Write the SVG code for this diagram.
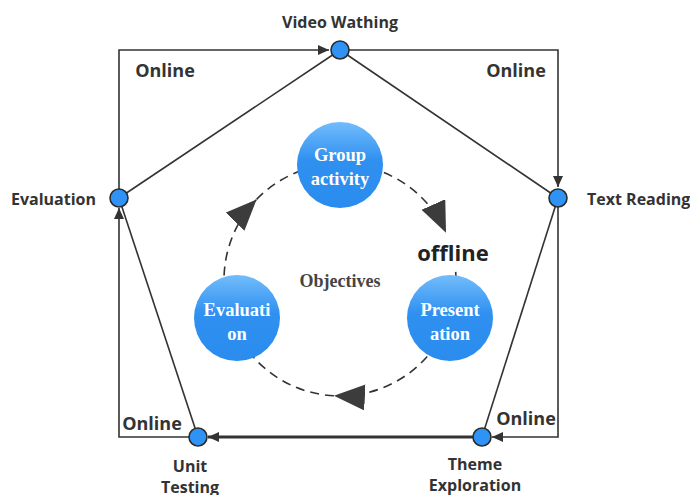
<svg xmlns="http://www.w3.org/2000/svg" width="690" height="495" viewBox="0 0 690 495">
<style>
.ln{fill:none;stroke:#333;stroke-width:1.6}
.thick{fill:none;stroke:#333;stroke-width:3}
.dash{fill:none;stroke:#333;stroke-width:1.6;stroke-dasharray:9 6}
.sn{fill:#2f93f5;stroke:#2b2b2b;stroke-width:1.6}
.bn{fill:url(#g)}
.lab{font-family:"Open Sans","Noto Sans",sans-serif;font-weight:700;fill:#333;font-size:16px}
.onl{font-family:"Open Sans","Noto Sans",sans-serif;font-weight:700;fill:#333;font-size:18px}
.bt{font-family:"Liberation Serif","Times New Roman",serif;font-weight:700;fill:#fff;font-size:18.5px;text-anchor:middle}
</style>
<defs>
<linearGradient id="g" x1="0" y1="0" x2="0" y2="1">
<stop offset="0" stop-color="#72bcfc"/>
<stop offset="0.45" stop-color="#2f90f0"/>
<stop offset="1" stop-color="#2a8cee"/>
</linearGradient>
<marker id="a" markerUnits="userSpaceOnUse" markerWidth="12" markerHeight="10" refX="11" refY="5" orient="auto">
<path d="M0,0 L11,5 L0,10 z" fill="#333"/>
</marker>
<marker id="big" markerUnits="userSpaceOnUse" markerWidth="32" markerHeight="28" refX="31" refY="13" orient="auto">
<path d="M0,0 L31,13 L0,26 z" fill="#3c3c3c"/>
</marker>
</defs>
<rect width="690" height="495" fill="#fff"/>
<g id="connectors">
<path class="ln" d="M119,189 V50 H329" marker-end="url(#a)"/>
<path class="ln" d="M119,198 L340,50"/>
<path class="ln" d="M349,50 H558 V187" marker-end="url(#a)"/>
<path class="ln" d="M340,50 L558,198"/>
<path class="ln" d="M558,207 V437 H492" marker-end="url(#a)"/>
<path class="ln" d="M558,198 L482,437"/>
<path class="thick" d="M473,437 H208" marker-end="url(#a)"/>
<path class="ln" d="M189,437 H119 V208" marker-end="url(#a)"/>
<path class="ln" d="M198,437 L119,198"/>
<path class="dash" d="M340,164 A116,116 0 0 1 446,232.8" marker-end="url(#big)"/>
<path class="dash" d="M455.7,271.9 A116,116 0 0 1 449.7,317.8"/>
<path class="dash" d="M449.7,317.8 A116,116 0 0 1 333.9,395.8" marker-end="url(#big)"/>
<path class="dash" d="M333.9,395.8 A116,116 0 0 1 231,319.7"/>
<path class="dash" d="M231,319.7 A116,116 0 0 1 256.6,199.4" marker-end="url(#big)"/>
<path class="dash" d="M256.6,199.4 A116,116 0 0 1 340,164"/>
</g>
<g id="video">
<circle class="sn" cx="340" cy="50" r="9"/>
<text class="lab" x="340" y="28" text-anchor="middle">Video Wathing</text>
</g>
<g id="text-reading">
<circle class="sn" cx="558" cy="198" r="9"/>
<text class="lab" x="587" y="205">Text Reading</text>
</g>
<g id="theme">
<circle class="sn" cx="482" cy="437" r="9"/>
<text class="lab" x="475" y="470" text-anchor="middle">Theme</text>
<text class="lab" x="475" y="491" text-anchor="middle">Exploration</text>
</g>
<g id="unit-testing">
<circle class="sn" cx="198" cy="437" r="9"/>
<text class="lab" x="190" y="472" text-anchor="middle">Unit</text>
<text class="lab" x="190" y="493" text-anchor="middle">Testing</text>
</g>
<g id="evaluation">
<circle class="sn" cx="119" cy="198" r="9"/>
<text class="lab" x="96" y="205" text-anchor="end">Evaluation</text>
</g>
<g id="online-labels">
<text class="onl" x="165" y="77" text-anchor="middle">Online</text>
<text class="onl" x="516" y="77" text-anchor="middle">Online</text>
<text class="onl" x="152" y="430" text-anchor="middle">Online</text>
<text class="onl" x="526" y="425" text-anchor="middle">Online</text>
</g>
<g id="group-activity">
<circle class="bn" cx="340" cy="165" r="43"/>
<text class="bt" x="340" y="161">Group</text>
<text class="bt" x="340" y="185">activity</text>
</g>
<g id="presentation">
<circle class="bn" cx="450" cy="318" r="43"/>
<text class="bt" x="450" y="316">Present</text>
<text class="bt" x="450" y="340">ation</text>
</g>
<g id="evaluation-big">
<circle class="bn" cx="237" cy="318" r="43"/>
<text class="bt" x="237" y="316">Evaluati</text>
<text class="bt" x="237" y="340">on</text>
</g>
<g id="objectives">
<text x="340" y="287" text-anchor="middle" font-family="Liberation Serif,Times New Roman,serif" font-weight="700" font-size="18" fill="#444">Objectives</text>
</g>
<g id="offline">
<text x="453" y="261" text-anchor="middle" font-family="Open Sans,Noto Sans,sans-serif" font-weight="700" font-size="22" fill="#222">offline</text>
</g>
</svg>
